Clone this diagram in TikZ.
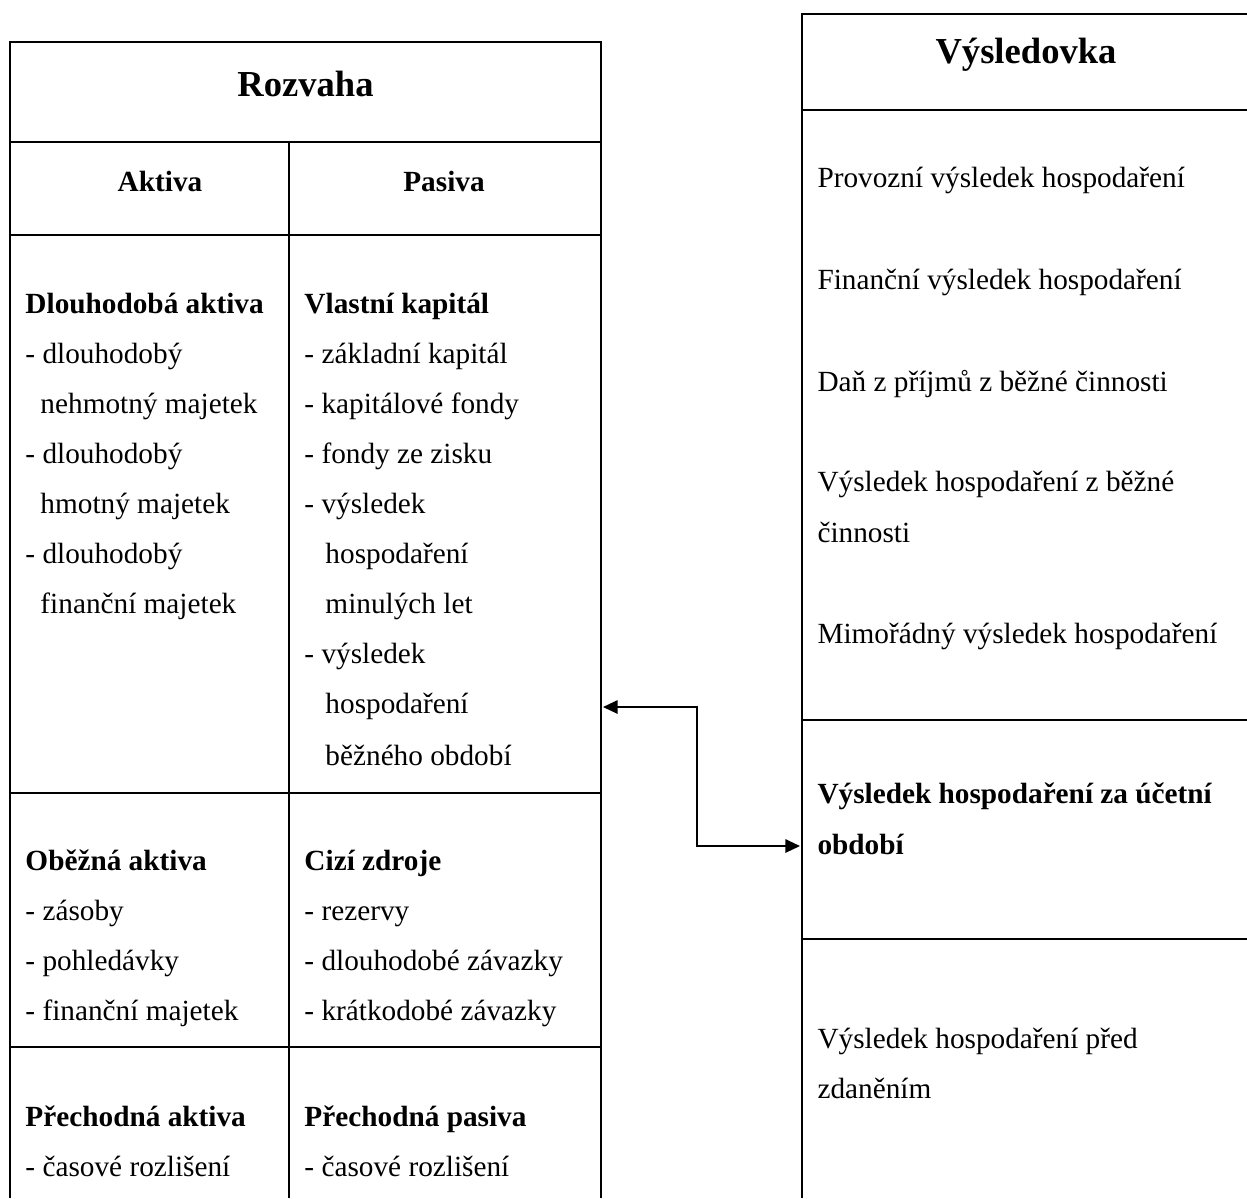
\documentclass[tikz,border=0pt]{standalone}
\usepackage{fontspec}
\setmainfont{Liberation Serif}
\usepackage{tikz}
\usetikzlibrary{arrows.meta, positioning}

\begin{document}
\begin{tikzpicture}[x=0.41pt, y=-0.41pt,
    rule/.style={line width=1.1pt},
    txt/.style={anchor=base west, inner sep=0pt, font=\fontsize{12}{14}\selectfont},
    hd/.style={txt, font=\fontsize{12}{14}\selectfont\bfseries},
    title/.style={anchor=base, inner sep=0pt, font=\fontsize{15}{18}\selectfont\bfseries}]
  \useasboundingbox (0,0) rectangle (1247,1198);

  % rozvaha
  \draw[rule] (10,1198) -- (10,42) -- (601,42) -- (601,1198);
  \foreach \y in {142,235,793,1047} \draw[rule] (10,\y) -- (601,\y);
  \draw[rule] (289,142) -- (289,1198);
  % vysledovka
  \draw[rule] (802,1198) -- (802,14) -- (1247,14);
  \foreach \y in {110,720,939} \draw[rule] (802,\y) -- (1247,\y);

  \node[title] (rozvaha) at (305.5,96) {Rozvaha};
  \node[title] (vysledovka) at (1026,63) {Výsledovka};
  \node[hd, anchor=base] (aktiva) at (160,191) {Aktiva};
  \node[hd, anchor=base] (pasiva) at (444,191) {Pasiva};

  \begin{scope}
    \node[hd] (da0) at (25,313) {Dlouhodobá aktiva};
    \node[txt] (da1) at (25,363) {- dlouhodobý};
    \node[txt] (da2) at (40,413) {nehmotný majetek};
    \node[txt] (da3) at (25,463) {- dlouhodobý};
    \node[txt] (da4) at (40,513) {hmotný majetek};
    \node[txt] (da5) at (25,563) {- dlouhodobý};
    \node[txt] (da6) at (40,613) {finanční majetek};

    \node[hd] (vk0) at (304,313) {Vlastní kapitál};
    \node[txt] (vk1) at (304,363) {- základní kapitál};
    \node[txt] (vk2) at (304,413) {- kapitálové fondy};
    \node[txt] (vk3) at (304,463) {- fondy ze zisku};
    \node[txt] (vk4) at (304,513) {- výsledek};
    \node[txt] (vk5) at (325,563) {hospodaření};
    \node[txt] (vk6) at (325,613) {minulých let};
    \node[txt] (vk7) at (304,663) {- výsledek};
    \node[txt] (vk8) at (325,713) {hospodaření};
    \node[txt] (vk9) at (325,765) {běžného období};
  \end{scope}

  \begin{scope}
    \node[hd] (oa0) at (25,870) {Oběžná aktiva};
    \node[txt] (oa1) at (25,920) {- zásoby};
    \node[txt] (oa2) at (25,970) {- pohledávky};
    \node[txt] (oa3) at (25,1020) {- finanční majetek};

    \node[hd] (cz0) at (304,870) {Cizí zdroje};
    \node[txt] (cz1) at (304,920) {- rezervy};
    \node[txt] (cz2) at (304,970) {- dlouhodobé závazky};
    \node[txt] (cz3) at (304,1020) {- krátkodobé závazky};

    \node[hd] (pa0) at (25,1126) {Přechodná aktiva};
    \node[txt] (pa1) at (25,1176) {- časové rozlišení};
    \node[hd] (pp0) at (304,1126) {Přechodná pasiva};
    \node[txt] (pp1) at (304,1176) {- časové rozlišení};
  \end{scope}

  \begin{scope}
    \node[txt] (vy1) at (817,187) {Provozní výsledek hospodaření};
    \node[txt] (vy2) at (817,289) {Finanční výsledek hospodaření};
    \node[txt] (vy3) at (817,391) {Daň z příjmů z běžné činnosti};
    \node[txt] (vy4) at (817,491) {Výsledek hospodaření z běžné};
    \node[txt] (vy5) at (817,542) {činnosti};
    \node[txt] (vy6) at (817,643) {Mimořádný výsledek hospodaření};
    \node[hd] (vh1) at (817,803) {Výsledek hospodaření za účetní};
    \node[hd] (vh2) at (817,854) {období};
    \node[txt] (vz1) at (817,1048) {Výsledek hospodaření před};
    \node[txt] (vz2) at (817,1098) {zdaněním};
  \end{scope}

  \coordinate (rozR) at (603,707);
  \coordinate (bend) at (697,776);
  \coordinate (vysL) at (800,846);
  \draw[line width=0.7pt, {Triangle[length=6pt,width=5.5pt]}-{Triangle[length=6pt,width=5.5pt]}]
    (rozR) -| (bend) |- (vysL);
\end{tikzpicture}
\end{document}
